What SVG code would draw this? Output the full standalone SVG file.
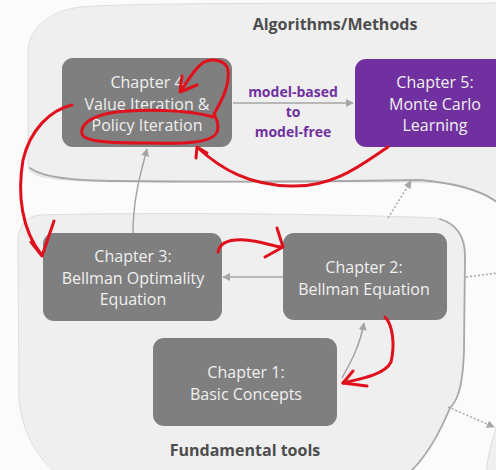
<svg xmlns="http://www.w3.org/2000/svg" width="496" height="470" viewBox="0 0 496 470">
<defs>
<style>
.bg{fill:#fbfbfb}
.blob{fill:#efefef;stroke:#dedede;stroke-width:1}
.shadow{fill:none;stroke:#a8a8a8;stroke-width:1.8;stroke-linecap:round}
.box{fill:#7f7f7f}
.purple{fill:#7030a0}
.bt{font-family:"Open Sans","Noto Sans",sans-serif;font-size:16px;fill:#f0f0f0;text-anchor:middle}
.lbl{font-family:"Open Sans","Noto Sans",sans-serif;font-size:14px;font-weight:bold;fill:#7030a0;text-anchor:middle}
.title{font-family:"Open Sans","Noto Sans",sans-serif;font-size:16px;font-weight:bold;fill:#4d4d4d;text-anchor:middle}
.con{fill:none;stroke:#a6a6a6;stroke-width:1.5}
.dot{fill:none;stroke:#a6a6a6;stroke-width:1.5;stroke-dasharray:2 2}
.red{fill:none;stroke:#e0101c;stroke-width:3;stroke-linecap:round;stroke-linejoin:round}
</style>
<marker id="arr" viewBox="0 0 10 10" refX="9" refY="5" markerWidth="8" markerHeight="8" markerUnits="userSpaceOnUse" orient="auto">
<path d="M0,0 L10,5 L0,10 Z" fill="#a6a6a6"/>
</marker>
</defs>
<rect class="bg" x="0" y="0" width="496" height="470"/>
<g id="region-algorithms">
<path class="blob" d="M28,50 C30,30 45,12 80,7 C150,2 300,4 497,3 L497,202 C488,195 475,188 455,184 C420,180 300,183 200,182 C120,182 70,182 50,178 C35,176 28,172 28,165 Z"/>
<path class="shadow" d="M30,168 C40,176 70,181 120,181 C200,182 300,182 420,180 C455,183 480,190 497,202"/>
<text class="title" x="335" y="30">Algorithms/Methods</text>
</g>
<g id="region-fundamental">
<path class="blob" d="M40,215 C150,212 350,214 435,218 C455,222 465,235 465,255 L464,350 C463,385 458,400 450,408 C440,432 428,455 410,472 L55,472 C35,455 22,430 19,400 L18,240 C18,226 27,216 40,215 Z"/>
<path class="shadow" d="M440,219 C456,224 465,236 465,256 L464,350 C463,385 458,400 450,408 C440,432 428,455 410,472"/>
<text class="title" x="245" y="456">Fundamental tools</text>
</g>
<g id="region-right">
<path class="blob" d="M497,424 C492,440 488,455 486,472 L497,472 Z"/>
</g>
<g id="connectors">
<line class="con" x1="233" y1="103" x2="353" y2="103" marker-end="url(#arr)"/>
<path class="con" d="M133,233 C133,200 140,175 147,149" marker-end="url(#arr)"/>
<line class="con" x1="283" y1="277" x2="223" y2="277" marker-end="url(#arr)"/>
<path class="con" d="M342,378 C352,360 360,345 364,323" marker-end="url(#arr)"/>
<path class="dot" d="M388,218 L411,181" marker-end="url(#arr)"/>
<path class="dot" d="M466,277 L497,273"/>
<path class="dot" d="M448,407 L494,427" marker-end="url(#arr)"/>
</g>
<g id="ch4">
<rect class="box" x="62" y="58" width="170" height="89" rx="11"/>
<text class="bt" x="147" y="88">Chapter 4</text>
<text class="bt" x="147" y="109.5">Value Iteration &amp;</text>
<text class="bt" x="147" y="131">Policy Iteration</text>
</g>
<g id="ch5">
<rect class="purple" x="355" y="59" width="160" height="88" rx="11"/>
<text class="bt" x="435" y="88">Chapter 5:</text>
<text class="bt" x="435" y="109.5">Monte Carlo</text>
<text class="bt" x="435" y="131">Learning</text>
</g>
<g id="label-model">
<text class="lbl" x="293" y="97">model-based</text>
<text class="lbl" x="293" y="117">to</text>
<text class="lbl" x="293" y="137">model-free</text>
</g>
<g id="ch3">
<rect class="box" x="43" y="233" width="179" height="88" rx="11"/>
<text class="bt" x="133" y="262">Chapter 3:</text>
<text class="bt" x="133" y="283.5">Bellman Optimality</text>
<text class="bt" x="133" y="305">Equation</text>
</g>
<g id="ch2">
<rect class="box" x="283" y="233" width="164" height="87" rx="11"/>
<text class="bt" x="364" y="273">Chapter 2:</text>
<text class="bt" x="364" y="294.5">Bellman Equation</text>
</g>
<g id="ch1">
<rect class="box" x="153" y="338" width="184" height="88" rx="11"/>
<text class="bt" x="246" y="378">Chapter 1:</text>
<text class="bt" x="246" y="400">Basic Concepts</text>
</g>
<g id="annotations">
<path class="red" d="M213,117 C190,110 140,108 110,113 C90,117 80,125 82,134 C85,142 110,143 150,143 C185,144 212,143 217,132 C220,124 216,118 214,114 C222,100 230,85 228,70 C226,60 212,58 204,62 C195,68 188,80 181,91"/>
<path class="red" d="M182,76 L180,92 L197,85"/>
<path class="red" d="M72,105 C50,110 30,130 23,160 C17,195 22,230 41,254"/>
<path class="red" d="M54,221 L42,256 L31,242"/>
<path class="red" d="M218,252 C220,242 230,239 245,240 C260,241 272,246 282,247"/>
<path class="red" d="M277,228 L283,247 L265,257"/>
<path class="red" d="M385,317 C393,325 395,345 391,362 C385,374 365,378 343,383"/>
<path class="red" d="M353,371 L343,383 L367,386"/>
<path class="red" d="M388,147 C365,162 335,188 290,186 C250,185 222,170 198,148"/>
<path class="red" d="M196,158 L197,147 L207,153"/>
</g>
</svg>
